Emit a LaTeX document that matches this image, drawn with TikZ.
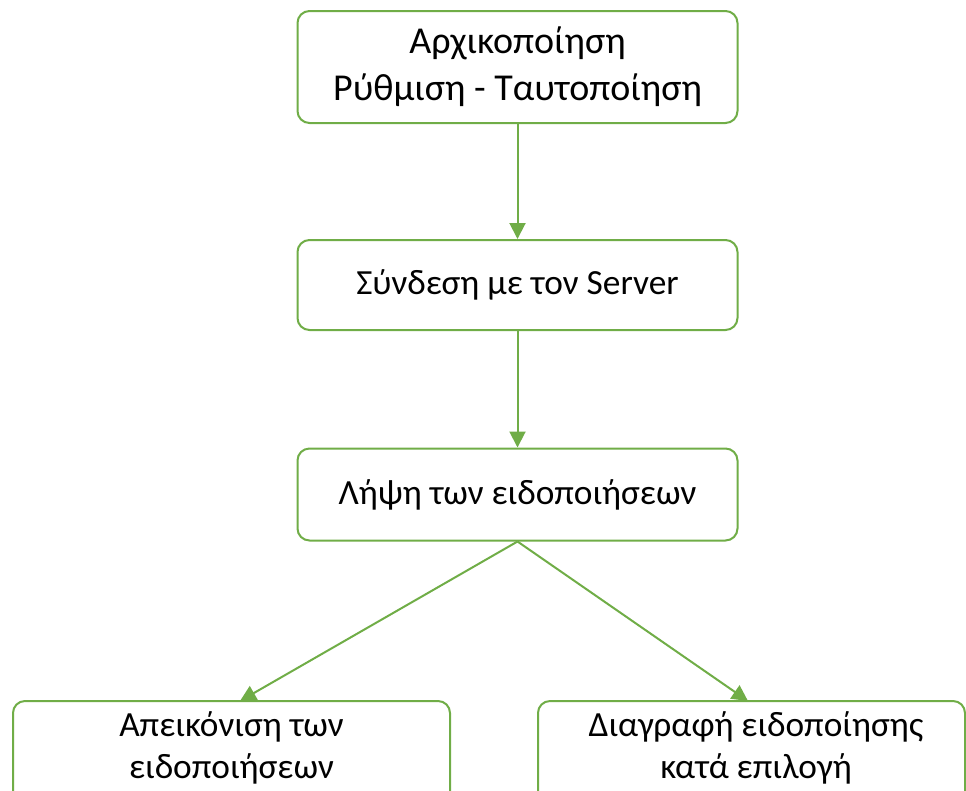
\documentclass[tikz,border=0pt]{standalone}
\usepackage{fontspec}
\setmainfont{Carlito}
\usetikzlibrary{arrows.meta}
\definecolor{leaf}{HTML}{70AD47}
\begin{document}
\begin{tikzpicture}[x=0.75pt,y=-0.75pt,
  box/.style={draw=leaf, line width=1.5pt, rounded corners=9pt, fill=white,
    inner sep=0pt, align=center, font=\fontsize{26.5}{35}\selectfont},
  caption/.style={inner sep=0pt, align=center, font=\fontsize{26.5}{31.5}\selectfont},
  link/.style={draw=leaf, line width=1.5pt, -{Triangle[length=12pt,width=12pt]}}]
\useasboundingbox (0,0) rectangle (966,790);
\clip (0,0) rectangle (966,790);

% main chain
\node[box, minimum width=330pt, minimum height=84pt,
  font=\fontsize{28.5}{35}\selectfont] (init) at (517.5,67)
  {Αρχικοποίηση\\Ρύθμιση - Ταυτοποίηση};
\node[box, minimum width=330pt, minimum height=67.5pt] (conn) at (517.5,285)
  {Σύνδεση με τον Server};
\node[box, minimum width=330pt, minimum height=69pt] (recv) at (517.5,494.5)
  {Λήψη των ειδοποιήσεων};

% two branches at the bottom edge
\node[box, minimum width=327.75pt, minimum height=84pt] (show) at (231.5,757) {};
\node[caption] (showtxt) at (231.5,748) {Απεικόνιση των\\ειδοποιήσεων};
\node[box, minimum width=320.25pt, minimum height=84pt] (del) at (751.5,757) {};
\node[caption] (deltxt) at (756,748) {Διαγραφή ειδοποίησης\\κατά επιλογή};

\coordinate (showin) at (240,701);
\coordinate (delin) at (748,701);

\draw[link] (init.south) -- (conn.north);
\draw[link] (conn.south) -- (recv.north);
\draw[link] (recv.south) -- (showin);
\draw[link] (recv.south) -- (delin);
\end{tikzpicture}
\end{document}
